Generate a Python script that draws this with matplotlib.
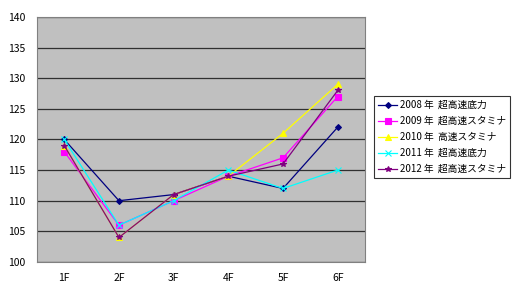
import matplotlib
matplotlib.use("Agg")
import matplotlib.pyplot as plt

plt.rcParams['font.family'] = ['Noto Sans CJK JP', 'DejaVu Sans']

FLOORS = ["1F", "2F", "3F", "4F", "5F", "6F"]
LABELS = ["2008 年  超高速底力", "2009 年  超高速スタミナ", "2010 年  高速スタミナ",
          "2011 年  超高速底力", "2012 年  超高速スタミナ"]
S2008 = [120, 110, 111, 114, 112, 122]
S2009 = [118, 106, 110, 114, 117, 127]
S2010 = [119, 104, 111, 114, 121, 129]
S2011 = [120, 106, 110, 115, 112, 115]
S2012 = [119, 104, 111, 114, 116, 128]

STYLES = [("#000080", "D", 3), ("#ff00ff", "s", 4), ("#ffff00", "^", 4),
          ("#00ffff", "x", 4), ("#800080", "*", 4)]


def main():
    fig = plt.figure(figsize=(5.2, 2.93), dpi=100)
    ax = fig.add_axes([0.071, 0.106, 0.631, 0.836])
    ax.set_facecolor("#c0c0c0")
    x = range(len(FLOORS))
    for ys, lab, (c, m, ms) in zip([S2008, S2009, S2010, S2011, S2012], LABELS, STYLES):
        ax.plot(x, ys, color=c, marker=m, markersize=ms, linewidth=0.9,
                markeredgewidth=0.8, label=lab)
    ax.set_xlim(-0.5, 5.5)
    ax.set_ylim(100, 140)
    ax.set_yticks(range(100, 141, 5))
    ax.set_xticks(list(x))
    ax.set_xticklabels(FLOORS)
    ax.yaxis.grid(True, color="#303030", linewidth=0.9)
    ax.set_axisbelow(True)
    ax.tick_params(labelsize=7.5, length=0, pad=8)
    for s in ax.spines.values():
        s.set_color("#808080")
        s.set_linewidth(0.8)
    leg = fig.legend(loc="upper left", bbox_to_anchor=(0.72, 0.672), fontsize=7,
                     frameon=True, fancybox=False, edgecolor="black",
                     handlelength=1.9, borderpad=0.4, labelspacing=0.62,
                     handletextpad=0.35, borderaxespad=0)
    leg.get_frame().set_linewidth(0.8)
    fig.savefig("out.png", dpi=100)


if __name__ == "__main__":
    main()
